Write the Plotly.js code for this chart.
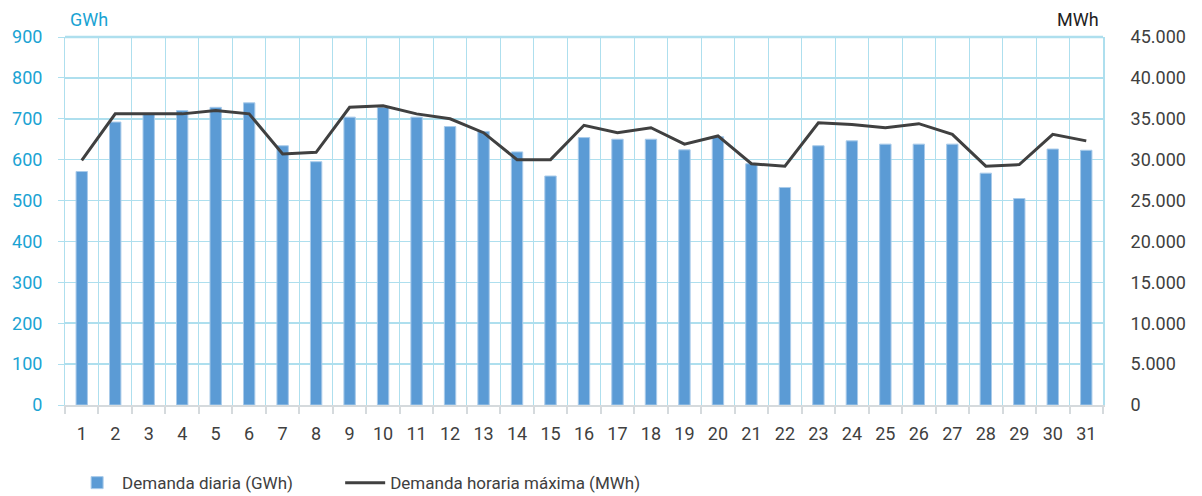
<!DOCTYPE html>
<html>
<head>
<meta charset="utf-8">
<script src="https://cdn.plot.ly/plotly-3.0.1.min.js"></script>
<style>html,body{margin:0;padding:0;background:#fff;}#chart{width:1202px;height:496px;}</style>
</head>
<body>
<div id="chart"></div>
<script>
const days = ['1','2','3','4','5','6','7','8','9','10','11','12','13','14','15','16','17','18','19','20','21','22','23','24','25','26','27','28','29','30','31'];
const demandaDiaria = [571,692,712,720,728,739,634,595,704,728,704,681,669,619,560,654,650,650,624,656,590,532,634,646,638,638,638,567,505,626,623];
const demandaHorariaMax = [29900,35600,35600,35600,36000,35600,30700,30900,36400,36600,35600,35000,33300,30000,30000,34200,33300,33900,31900,32900,29500,29200,34500,34300,33900,34400,33100,29200,29400,33100,32300];
const nameBars = 'Demanda diaria (GWh)';
const nameLine = 'Demanda horaria máxima (MWh)';

const FONT = 'Roboto, Liberation Sans, sans-serif';
const CYAN = '#1AA3D3';
const DARK = '#404040';
const GRID = '#AEDFEE';

const traces = [
  {
    type: 'bar', x: days, y: demandaDiaria, name: nameBars,
    marker: {color: '#5B9BD5', line: {color: '#A9CBEA', width: 1}},
    width: 0.34, yaxis: 'y', hoverinfo: 'x+y', legend: 'legend'
  },
  {
    type: 'scatter', mode: 'lines', x: days, y: demandaHorariaMax, name: nameLine,
    line: {color: DARK, width: 3}, yaxis: 'y2', legend: 'legend2'
  }
];

const legendBase = {
  orientation: 'h', xref: 'container', yref: 'container',
  y: 0.026, xanchor: 'left', yanchor: 'middle',
  font: {family: FONT, size: 17, color: DARK},
  itemwidth: 40
};

const layout = {
  width: 1202, height: 496,
  margin: {l: 65, r: 99, t: 37, b: 91, autoexpand: false},
  paper_bgcolor: '#fff', plot_bgcolor: '#fff',
  separators: ',.',
  font: {family: FONT, size: 18, color: DARK},
  showlegend: true,
  legend: Object.assign({}, legendBase, {x: 0.06}),
  legend2: Object.assign({}, legendBase, {x: 0.283}),
  xaxis: {
    type: 'category', tickson: 'boundaries', tickangle: 0,
    showgrid: true, gridcolor: GRID, gridwidth: 1,
    showline: true, linecolor: '#D5DADD', linewidth: 2,
    ticks: 'outside', ticklen: 7, tickcolor: '#D5DADD', tickwidth: 2,
    tickfont: {family: FONT, size: 18, color: DARK},
    ticklabelstandoff: 11,
    zeroline: false, fixedrange: true
  },
  yaxis: {
    range: [0, 900], dtick: 100, tick0: 0,
    showgrid: true, gridcolor: GRID, gridwidth: 1.5,
    zeroline: false, showline: true, linecolor: GRID, linewidth: 1,
    ticks: 'outside', ticklen: 6, tickcolor: GRID,
    tickfont: {family: FONT, size: 18, color: CYAN},
    ticklabelstandoff: 12,
    fixedrange: true
  },
  yaxis2: {
    overlaying: 'y', side: 'right',
    range: [0, 45000], dtick: 5000, tick0: 0, tickformat: ',d',
    showgrid: false, zeroline: false,
    showline: true, linecolor: GRID, linewidth: 2,
    ticks: '',
    tickfont: {family: FONT, size: 18, color: DARK},
    ticklabelstandoff: 22,
    fixedrange: true
  },
  shapes: [
    {type: 'line', xref: 'paper', yref: 'paper', x0: 0, x1: 1, y0: 1, y1: 1,
     line: {color: GRID, width: 2.5}}
  ],
  annotations: [
    {text: 'GWh', xref: 'paper', yref: 'paper', x: 0.003, y: 1, xanchor: 'left', yanchor: 'bottom',
     yshift: 5, showarrow: false, font: {family: FONT, size: 18, color: CYAN}},
    {text: 'MWh', xref: 'paper', yref: 'paper', x: 0.998, y: 1, xanchor: 'right', yanchor: 'bottom',
     yshift: 5, showarrow: false, font: {family: FONT, size: 18, color: '#222'}}
  ],
  bargap: 0.66
};

Plotly.newPlot('chart', traces, layout, {displayModeBar: false, staticPlot: true});
</script>
</body>
</html>
